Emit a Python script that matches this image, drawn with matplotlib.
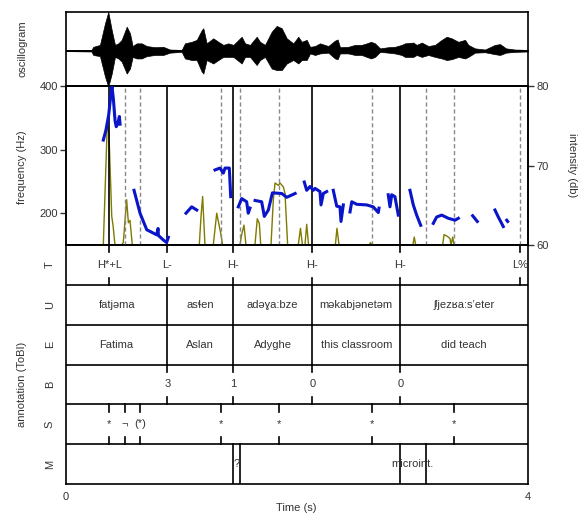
import numpy as np
import matplotlib
matplotlib.use("Agg")
import matplotlib.pyplot as plt

plt.rcParams['font.family'] = ['Liberation Sans', 'DejaVu Sans']
plt.rcParams['font.size'] = 8
plt.rcParams['text.color'] = '#333333'
plt.rcParams['xtick.color'] = '#333333'
plt.rcParams['ytick.color'] = '#333333'

nan = float('nan')

# oscillogram envelope (time s, upper / lower amplitude)
osc_t = [0.0, 0.22, 0.236, 0.294, 0.338, 0.366, 0.396, 0.424, 0.453, 0.482, 0.526, 0.554,
         0.577, 0.612, 0.655, 0.699, 0.771, 0.842, 0.900, 1.002, 1.030, 1.088, 1.132, 1.175,
         1.189, 1.218, 1.275, 1.319, 1.362, 1.405, 1.449, 1.521, 1.550, 1.593, 1.651, 1.680,
         1.723, 1.781, 1.824, 1.868, 1.911, 1.968, 2.011, 2.041, 2.084, 2.113, 2.156, 2.199,
         2.271, 2.329, 2.352, 2.372, 2.444, 2.502, 2.560, 2.604, 2.641, 2.675, 2.719, 2.790,
         2.848, 2.906, 2.935, 3.007, 3.036, 3.080, 3.137, 3.195, 3.253, 3.296, 3.339, 3.397,
         3.455, 3.483, 3.541, 3.628, 3.714, 3.758, 3.810, 3.887, 4.0]
osc_hi = [0.01, 0.02, 0.10, 0.15, 0.71, 1.0, 0.53, 0.15, 0.19, 0.28, 0.62, 0.45,
          0.12, 0.19, 0.19, 0.12, 0.09, 0.10, 0.03, 0.02, 0.19, 0.23, 0.28, 0.53,
          0.58, 0.19, 0.32, 0.23, 0.15, 0.19, 0.15, 0.36, 0.19, 0.15, 0.36, 0.23,
          0.15, 0.49, 0.64, 0.58, 0.32, 0.19, 0.36, 0.23, 0.28, 0.10, 0.12, 0.19,
          0.12, 0.26, 0.29, 0.09, 0.10, 0.15, 0.15, 0.19, 0.23, 0.19, 0.06, 0.09,
          0.10, 0.15, 0.19, 0.21, 0.15, 0.21, 0.12, 0.15, 0.28, 0.36, 0.32, 0.23,
          0.28, 0.15, 0.06, 0.03, 0.15, 0.17, 0.06, 0.03, 0.02]
osc_lo = [-0.01, -0.02, -0.11, -0.14, -0.67, -0.93, -0.59, -0.16, -0.20, -0.28, -0.59, -0.46,
          -0.16, -0.20, -0.20, -0.14, -0.11, -0.11, -0.05, -0.03, -0.20, -0.24, -0.24, -0.54,
          -0.59, -0.24, -0.33, -0.24, -0.16, -0.16, -0.16, -0.33, -0.16, -0.16, -0.37, -0.24,
          -0.16, -0.46, -0.50, -0.50, -0.33, -0.24, -0.33, -0.24, -0.24, -0.07, -0.11, -0.07,
          -0.05, -0.20, -0.22, -0.07, -0.07, -0.11, -0.11, -0.16, -0.20, -0.16, -0.03, -0.05,
          -0.07, -0.11, -0.16, -0.16, -0.11, -0.16, -0.11, -0.16, -0.20, -0.24, -0.22, -0.16,
          -0.20, -0.16, -0.05, -0.04, -0.09, -0.11, -0.05, -0.03, -0.02]

# F0 contour (Hz), nan separates voiced stretches
pitch_t = [0.323, 0.345, 0.370, 0.390, 0.398, 0.410, 0.425, 0.435, 0.450, 0.462, 0.468, nan,
           0.589, 0.641, 0.699, 0.785, 0.797, 0.800, 0.842, 0.871, 0.886, nan,
           1.039, 1.088, 1.132, nan,
           1.290, 1.333, 1.362, 1.377, 1.414, 1.426, nan,
           1.492, 1.521, 1.564, 1.578, 1.593, nan,
           1.637, 1.694, 1.717, 1.752, 1.787, 1.868, 1.911, 1.984, nan,
           2.063, 2.084, 2.113, 2.141, 2.156, 2.199, 2.208, 2.228, 2.257, nan,
           2.314, 2.344, 2.372, 2.381, 2.401, nan,
           2.459, 2.474, 2.517, 2.604, 2.660, 2.704, 2.710, nan,
           2.790, 2.805, 2.820, 2.848, 2.877, nan,
           2.978, 3.007, 3.036, 3.071, nan,
           3.180, 3.209, 3.253, 3.310, 3.368, 3.397, nan,
           3.521, 3.561, nan,
           3.714, 3.743, 3.786, nan,
           3.816, 3.824]
pitch_hz = [315, 330, 355, 390, 399, 380, 345, 336, 342, 352, 340, nan,
            236, 200, 174, 166, 176, 165, 158, 154, 162, nan,
            200, 210, 205, nan,
            268, 271, 263, 271, 271, 226, nan,
            210, 223, 218, 200, 208, nan,
            220, 218, 195, 205, 232, 231, 225, 231, nan,
            249, 236, 242, 236, 239, 234, 213, 231, 234, nan,
            236, 211, 210, 187, 213, nan,
            202, 218, 214, 213, 210, 201, 208, nan,
            229, 210, 229, 226, 197, nan,
            236, 213, 197, 181, nan,
            184, 194, 197, 192, 189, 192, nan,
            196, 187, nan,
            205, 194, 179, nan,
            189, 187]

# intensity (dB)
int_t = [0.0, 0.323, 0.358, 0.372, 0.396, 0.407, 0.424,
         0.482, 0.496, 0.525, 0.540, 0.554, 0.574,
         1.154, 1.169, 1.183, 1.203,
         1.275, 1.305, 1.339, 1.356,
         1.506, 1.521, 1.541, 1.558,
         1.636, 1.656, 1.674, 1.686,
         1.775, 1.795, 1.810, 1.839, 1.853, 1.882, 1.896, 1.919,
         2.011, 2.030, 2.047,
         2.069, 2.084, 2.100,
         2.332, 2.346, 2.364,
         2.626, 2.636, 2.647,
         3.003, 3.015, 3.028,
         3.261, 3.273, 3.301, 3.325, 3.333, 3.348, 3.359, 4.0]
int_db = [60, 60, 75.5, 74.0, 63.6, 62.5, 60,
          60, 60.3, 65.7, 62.8, 63.1, 60,
          60, 63.6, 66.1, 60,
          60, 64.0, 61.5, 60,
          60, 61.3, 62.5, 60,
          60, 63.3, 62.7, 60,
          60, 65.7, 67.8, 67.5, 67.8, 67.3, 66.5, 60,
          60, 62.1, 60,
          60, 62.6, 60,
          60, 62.1, 60,
          60, 60.3, 60,
          60, 61.0, 60,
          60, 61.3, 61.1, 60.8, 60, 61.0, 60, 60]

# boundaries drawn through the F0 panel
solid_marks = [0.375, 0.877, 1.448, 2.132, 2.894]
dashed_marks = [0.508, 0.641, 1.339, 1.506, 1.847, 2.647, 3.113, 3.359, 3.931]

# ToBI tiers
tone_t = [0.375, 0.877, 1.448, 2.132, 2.894, 3.931]
tones = ["H*+L", "L-", "H-", "H-", "H-", "L%"]
word_bounds = [0.877, 1.448, 2.132, 2.894]
translit = ["fatjəma", "asɬen", "adəɣa:bze", "məkabjənetəm", "ʃʲjezʁa:sʼeter"]
gloss = ["Fatima", "Aslan", "Adyghe", "this classroom", "did teach"]
break_t = [0.877, 1.448, 2.132, 2.894]
breaks = ["3", "1", "0", "0"]
stress_t = [0.375, 0.508, 0.641, 1.339, 1.847, 2.647, 3.359]
stress = ["*", "¬", "(*)", "*", "*", "*", "*"]
misc_bounds = [1.448, 1.506, 2.894, 3.113]
misc_labels = ["", "?", "", "microint.", ""]
tier_names = ["T", "U", "E", "B", "S", "M"]

W, H = 579, 515
fig = plt.figure(figsize=(W / 100, H / 100), dpi=100)

def box(x0, y0, x1, y1):
    return [x0 / W, 1 - y1 / H, (x1 - x0) / W, (y1 - y0) / H]

LW = 1.2
ax_osc = fig.add_axes(box(66, 12, 528, 86))
ax_f0 = fig.add_axes(box(66, 86, 528, 245))
ax_db = ax_f0.twinx()
ax_tb = fig.add_axes(box(66, 245, 528, 484))

for a in (ax_osc, ax_f0, ax_db, ax_tb):
    for s in a.spines.values():
        s.set_linewidth(LW)

# --- oscillogram
ax_osc.fill_between(osc_t, osc_lo, osc_hi, color='black', lw=0.5)
ax_osc.axhline(0, color='black', lw=1.4)
ax_osc.set_xlim(0, 4)
ax_osc.set_ylim(-0.912, 1.0)
ax_osc.set_xticks([])
ax_osc.set_yticks([])

# --- F0 + intensity
for t in solid_marks:
    ax_f0.axvline(t, color='black', lw=1.2, zorder=1)
for t in dashed_marks:
    ax_f0.axvline(t, color='#888888', lw=1.0, dashes=(3, 2), zorder=1)
ax_f0.plot(pitch_t, pitch_hz, color='#0a14c8', lw=2.2, zorder=3)
ax_f0.set_xlim(0, 4)
ax_f0.set_ylim(150, 400)
ax_f0.set_yticks([200, 300, 400])
ax_f0.set_xticks([])
ax_f0.tick_params(axis='y', length=4, width=1, pad=2)

ax_db.plot(int_t, int_db, color='#7f7a00', lw=1.0, clip_on=False, zorder=2)
ax_db.set_ylim(60, 80)
ax_db.set_yticks([60, 70, 80])
ax_db.tick_params(axis='y', length=4, width=1, pad=2)
ax_f0.set_zorder(ax_db.get_zorder() + 1)
ax_f0.patch.set_visible(False)

# --- annotation tiers
ax_tb.set_xlim(0, 4)
ax_tb.set_ylim(0, 6)
ax_tb.set_yticks([])
ax_tb.set_xticks([0, 4])
ax_tb.tick_params(axis='x', length=0, pad=6)
for y in range(1, 6):
    ax_tb.axhline(y, color='black', lw=LW)

tick = 0.18

def point_tier(row, times, labels):
    for t, lab in zip(times, labels):
        ax_tb.plot([t, t], [row + 1 - tick, row + 1], color='black', lw=1.2)
        ax_tb.plot([t, t], [row, row + tick], color='black', lw=1.2)
        ax_tb.text(t, row + 0.5, lab, ha='center', va='center')

def interval_tier(row, bounds, labels):
    for t in bounds:
        ax_tb.plot([t, t], [row, row + 1], color='black', lw=1.2)
    edges = [0] + list(bounds) + [4]
    for i, lab in enumerate(labels):
        if lab:
            ax_tb.text((edges[i] + edges[i + 1]) / 2, row + 0.5, lab,
                       ha='center', va='center')

point_tier(5, tone_t, tones)
interval_tier(4, word_bounds, translit)
interval_tier(3, word_bounds, gloss)
point_tier(2, break_t, breaks)
point_tier(1, stress_t, stress)
interval_tier(0, misc_bounds, misc_labels)

for i, name in enumerate(tier_names):
    ax_tb.text(-0.139, 5.5 - i, name, rotation=90, ha='center', va='center',
               clip_on=False)

fig.text(22 / W, 1 - 49 / H, "oscillogram", rotation=90, ha='center', va='center')
fig.text(22 / W, 1 - 167 / H, "frequency (Hz)", rotation=90, ha='center', va='center')
fig.text(22 / W, 1 - 384 / H, "annotation (ToBI)", rotation=90, ha='center', va='center')
fig.text(572 / W, 1 - 165 / H, "intensity (db)", rotation=270, ha='center', va='center')
fig.text(296 / W, 1 - 508 / H, "Time (s)", ha='center', va='center')

fig.savefig("out.png", dpi=100)
